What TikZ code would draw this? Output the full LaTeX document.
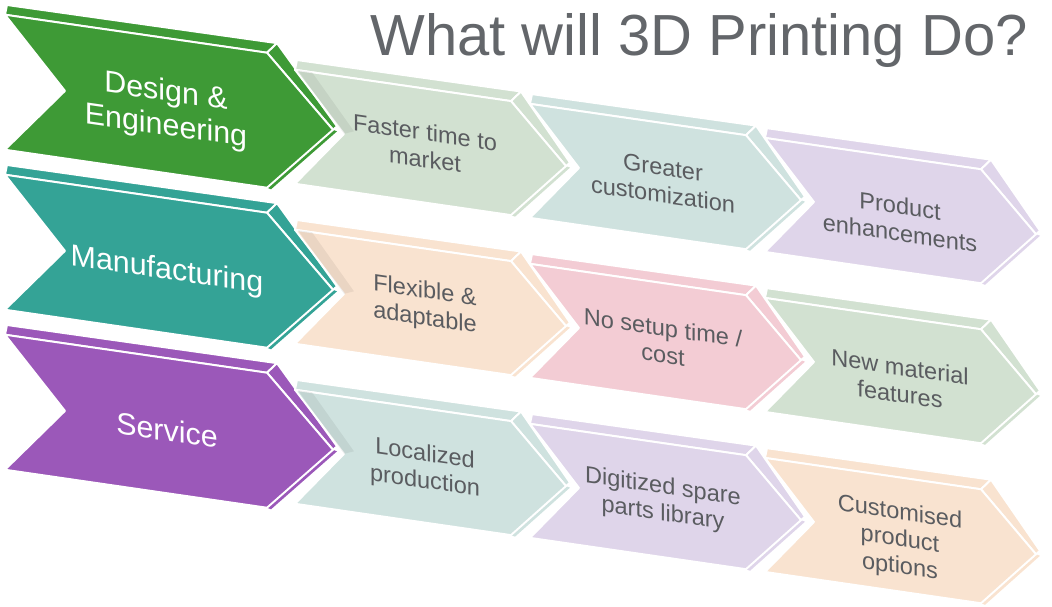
\documentclass[tikz,border=0pt]{standalone}
\usepackage{fontspec}
\setmainfont{Liberation Sans}
\usetikzlibrary{calc}

\definecolor{leadgreen}{HTML}{3E9A36}
\definecolor{leadteal}{HTML}{34A396}
\definecolor{leadpurple}{HTML}{9B58B9}
\definecolor{palegreen}{HTML}{D2E1D1}
\definecolor{paleteal}{HTML}{CFE2DF}
\definecolor{palelilac}{HTML}{DFD5EA}
\definecolor{palepeach}{HTML}{F9E3D0}
\definecolor{palepink}{HTML}{F3CCD4}
\definecolor{itemgray}{HTML}{5A5C60}
\definecolor{titlegray}{HTML}{63666A}

% one extruded chevron: #1 left x, #2 top y, #3 body width, #4 height,
% #5 tip length, #6 notch depth, #7 colour
\newcommand{\chevron}[7]{%
  \coordinate (tl) at (#1,#2);
  \coordinate (tr) at ({#1+#3},#2);
  \coordinate (tp) at ({#1+#3+#5},{#2+#4/2});
  \coordinate (br) at ({#1+#3},{#2+#4});
  \coordinate (bl) at (#1,{#2+#4});
  \coordinate (nt) at ({#1+#6},{#2+#4/2});
  \coordinate (btl) at ({#1+2},{#2-10});
  \coordinate (btr) at ({#1+#3+10},{#2-11});
  \coordinate (btp) at ({#1+#3+#5+4},{#2+#4/2-4});
  \fill[#7] (tp) -- ({#1+#3+#5+4},{#2+#4/2+1}) -- ({#1+#3+4},{#2+#4+1}) -- (br) -- cycle;
  \filldraw[face, fill=#7] (tl) -- (btl) -- (btr) -- (tr) -- cycle;
  \filldraw[face, fill=#7] (tr) -- (btr) -- (btp) -- (tp) -- cycle;
  \filldraw[face, fill=#7] (tl) -- (tr) -- (tp) -- (br) -- (bl) -- (nt) -- cycle;
}
% shadow thrown into the notch: #1 left x, #2 top y, #3 height, #4 notch depth
\newcommand{\notchshade}[4]{%
  \fill[black, opacity=0.06] ({#1+3},#2) -- ({#1+17},#2) -- ({#1+#4+10},{#2+#3/2-4}) -- ({#1+#4},{#2+#3/2}) -- cycle;
}

\begin{document}
\begin{tikzpicture}[x=0.02cm, y=-0.02cm]
\tikzstyle{face}=[draw=white, line width=1.1pt, line join=round]
\tikzstyle{lead}=[inner sep=0pt, align=center, text=white, transform shape,
  font=\fontsize{17.3}{19.5}\selectfont]
\tikzstyle{item}=[inner sep=0pt, align=center, text=itemgray, transform shape,
  font=\fontsize{13.4}{15.4}\selectfont]
\useasboundingbox (0,0) rectangle (1052,607);

\node[anchor=base west, inner sep=0pt, text=titlegray,
  font=\fontsize{33}{40}\selectfont] (title) at (370,56) {What will 3D Printing Do?};

\begin{scope}[yslant=-0.145]
% design row
\chevron{5}{14}{262}{135}{66}{60}{leadgreen}
\chevron{295}{27}{216}{114}{55}{49}{palegreen}
\notchshade{295}{27}{114}{49}
\chevron{530}{27}{216}{114}{55}{49}{paleteal}
\chevron{765}{27}{216}{114}{55}{49}{palelilac}
\node[lead] (design) at (166,86) {Design \&\\Engineering};
\node[item] (faster) at (425,84) {Faster time to\\market};
\node[item] (greater) at (663,85) {Greater\\customization};
\node[item] (product) at (900,89) {Product\\enhancements};

% manufacturing row
\chevron{5}{174}{262}{135}{66}{60}{leadteal}
\chevron{295}{187}{216}{114}{55}{49}{palepeach}
\notchshade{295}{187}{114}{49}
\chevron{530}{187}{216}{114}{55}{49}{palepink}
\chevron{765}{187}{216}{114}{55}{49}{palegreen}
\node[lead] (manufacturing) at (167,247) {Manufacturing};
\node[item] (flexible) at (425,244) {Flexible \&\\adaptable};
\node[item] (nosetup) at (663,245) {No setup time /\\cost};
\node[item] (material) at (900,250) {New material\\features};

% service row
\chevron{5}{334}{262}{135}{66}{60}{leadpurple}
\chevron{295}{347}{216}{114}{55}{49}{paleteal}
\notchshade{295}{347}{114}{49}
\chevron{530}{347}{216}{114}{55}{49}{palelilac}
\chevron{765}{347}{216}{114}{55}{49}{palepeach}
\node[lead] (service) at (167,406) {Service};
\node[item] (localized) at (425,407) {Localized\\production};
\node[item] (digitized) at (663,405) {Digitized spare\\parts library};
\node[item] (customised) at (900,410) {Customised\\product\\options};
\end{scope}
\end{tikzpicture}
\end{document}
